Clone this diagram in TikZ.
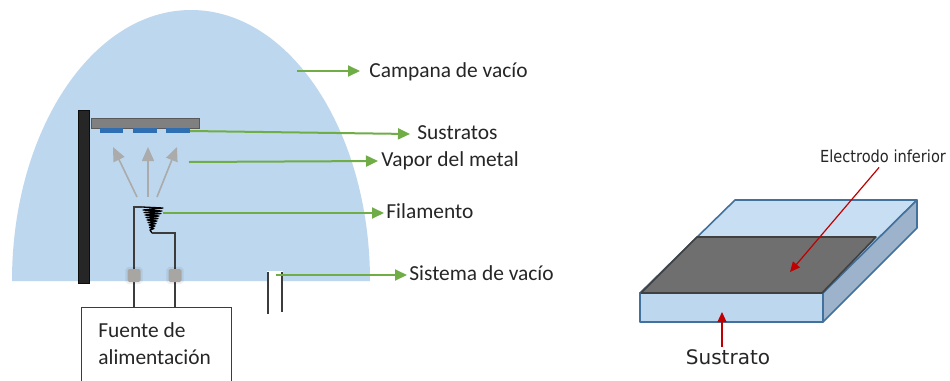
\documentclass[tikz,border=0pt]{standalone}
\usepackage{fontspec}
\setmainfont{Carlito}
\newfontfamily\dvsans{DejaVu Sans}
\newfontfamily\dvnarrow{DejaVu Sans}[FakeStretch=0.88]
\usetikzlibrary{arrows.meta}
\definecolor{bell}{HTML}{BDD7EE}
\definecolor{leaf}{HTML}{70AD47}
\definecolor{ink}{HTML}{262626}
\definecolor{wafer}{HTML}{2F6EB0}
\definecolor{slabline}{HTML}{41719C}
\definecolor{slabtop}{HTML}{C8DEF2}
\definecolor{slabfront}{HTML}{BDD7EE}
\definecolor{slabside}{HTML}{9DB3CB}
\definecolor{film}{HTML}{6F6F6F}
\definecolor{alert}{HTML}{C00000}
\definecolor{vapour}{HTML}{ABABAB}
\definecolor{feed}{HTML}{A8A6A3}
\begin{document}
\begin{tikzpicture}[x=0.5pt,y=-0.5pt,
  lbl/.style={font=\fontsize{10.7}{13}\selectfont, text=ink, anchor=west,
    inner ysep=0pt, text height=1.45ex, text depth=0.35ex},
  callout/.style={draw=leaf, line width=1pt, -{Triangle[length=6pt,width=5.5pt]}},
  pointer/.style={draw=alert, line width=0.6pt, -{Triangle[length=5pt,width=4.5pt]}},
  plume/.style={draw=vapour, line width=0.8pt, -{Triangle[length=7pt,width=6pt]}},
  wire/.style={draw=ink!90, line width=0.7pt},
  terminal/.style={fill=feed, minimum size=6.5pt, inner sep=0pt, rounded corners=0.8pt,
    preaction={draw=black, draw opacity=0.06, line width=2.2pt, rounded corners=1.5pt}},
]
\useasboundingbox (0,0) rectangle (950,381);
\clip (0,0) rectangle (950,381);
\fill[white] (0,0) rectangle (950,381);

% ---------- evaporation chamber ----------
% bell jar
\fill[bell] (12,281) arc[start angle=180, end angle=0, x radius=89.5pt, y radius=135.5pt] -- cycle;

% support post and substrate holder
\filldraw[fill=black!85, draw=black!95, line width=0.4pt] (78,110) rectangle (89,283);
\filldraw[fill=black!50, draw=black!65, line width=0.4pt] (91,118) rectangle (199,128);
\fill[wafer] (100,127.5) rectangle (123,133);
\fill[wafer] (133,127.5) rectangle (157,133);
\fill[wafer] (166,127.5) rectangle (190,133);

% metal vapour rising from the filament
\coordinate (v1) at (137,197); \coordinate (t1) at (113,147);
\coordinate (v2) at (148,197); \coordinate (t2) at (148,147);
\coordinate (v3) at (157,197); \coordinate (t3) at (177,147);
\draw[plume] (v1) -- (t1);
\draw[plume] (v2) -- (t2);
\draw[plume] (v3) -- (t3);

% conical filament coil
\coordinate (fl) at (142,207);
\coordinate (fr) at (152,233);
\draw[black, line width=0.65pt, line join=round]
  (fl) -- (163,208) -- (143,210) -- (162,211) -- (144,212.5) -- (161,213.5)
  -- (145,215) -- (159,216) -- (146,217.5) -- (158,218.5) -- (147,220)
  -- (157,221) -- (148,222.5) -- (156,223.5) -- (149,225) -- (155,226)
  -- (149.5,227.5) -- (154,228.5) -- (150,230) -- (fr);

% power supply and feed-through terminals
\node[draw=ink!90, line width=0.7pt, anchor=north west, minimum width=75pt,
      minimum height=50pt, inner sep=0pt] (psu) at (81,307) {};
\node[anchor=north west, inner sep=0pt, align=left, text=ink,
      font=\fontsize{10.7}{13.5}\selectfont] (psutext) at (98,322) {Fuente de\\alimentación};
\coordinate (term1) at (134,275.5);
\coordinate (term2) at (175,275.5);
\draw[wire] (fl) -| (term1);
\draw[wire] (fr) -| (term2);
\draw[wire] (term1) -- (term1 |- psu.north);
\draw[wire] (term2) -- (term2 |- psu.north);
\node[terminal] (feed1) at (term1) {};
\node[terminal] (feed2) at (term2) {};

% vacuum pumping line
\fill[white] (267,271) rectangle (283,282);
\draw[ink!90, line width=0.8pt] (268,271.5) -- (268,314);
\draw[ink!90, line width=0.8pt] (282,271.5) -- (282,312);

% ---------- callouts ----------
\coordinate (cBell) at (297,71);
\coordinate (cSub) at (190,131);
\coordinate (cVap) at (189,162);
\coordinate (cFil) at (163,213);
\coordinate (cVac) at (276,275);

\node[lbl, inner xsep=4.5pt] (lBell) at (360,72) {Campana de vacío};
\node[lbl, inner xsep=3.5pt] (lSub) at (410,134) {Sustratos};
\node[lbl, inner xsep=1.5pt] (lVap) at (378,161) {Vapor del metal};
\node[lbl, inner xsep=1pt] (lFil) at (384,213) {Filamento};
\node[lbl, inner xsep=1pt] (lVac) at (407,275) {Sistema de vacío};

\draw[callout] (cBell) -- (cBell -| lBell.west);
\draw[callout] (cSub) -- (lSub.west);
\draw[callout] (cVap) -- (lVap.west);
\draw[callout] (cFil) -- (lFil.west);
\draw[callout] (cVac) -- (lVac.west);

% ---------- substrate with bottom electrode ----------
\begin{scope}[line width=0.8pt, line join=round]
\filldraw[fill=slabtop, draw=slabline] (640,293) -- (735,200) -- (917,200) -- (823,293) -- cycle;
\filldraw[fill=slabside, draw=slabline] (823,293) -- (917,200) -- (917,228) -- (823,322) -- cycle;
\filldraw[fill=slabfront, draw=slabline] (640,293) rectangle (823,322);
\filldraw[fill=film, draw=black!75] (641,293) -- (697,237) -- (876,237) -- (822,293) -- cycle;
\end{scope}

\node[inner sep=0pt, text=ink, font=\dvnarrow\fontsize{8.3}{10}\selectfont] (lElec) at (883,156) {Electrodo inferior};
\node[inner sep=0pt, text=ink, font=\dvsans\fontsize{10}{12}\selectfont] (lSlab) at (728,357) {Sustrato};
\coordinate (eTip) at (790,272);
\coordinate (sTip) at (722,312);
\draw[pointer, shorten <=3pt] (lElec.south) -- (eTip);
\draw[pointer, shorten <=1pt] (lSlab.north -| sTip) -- (sTip);
\end{tikzpicture}
\end{document}
